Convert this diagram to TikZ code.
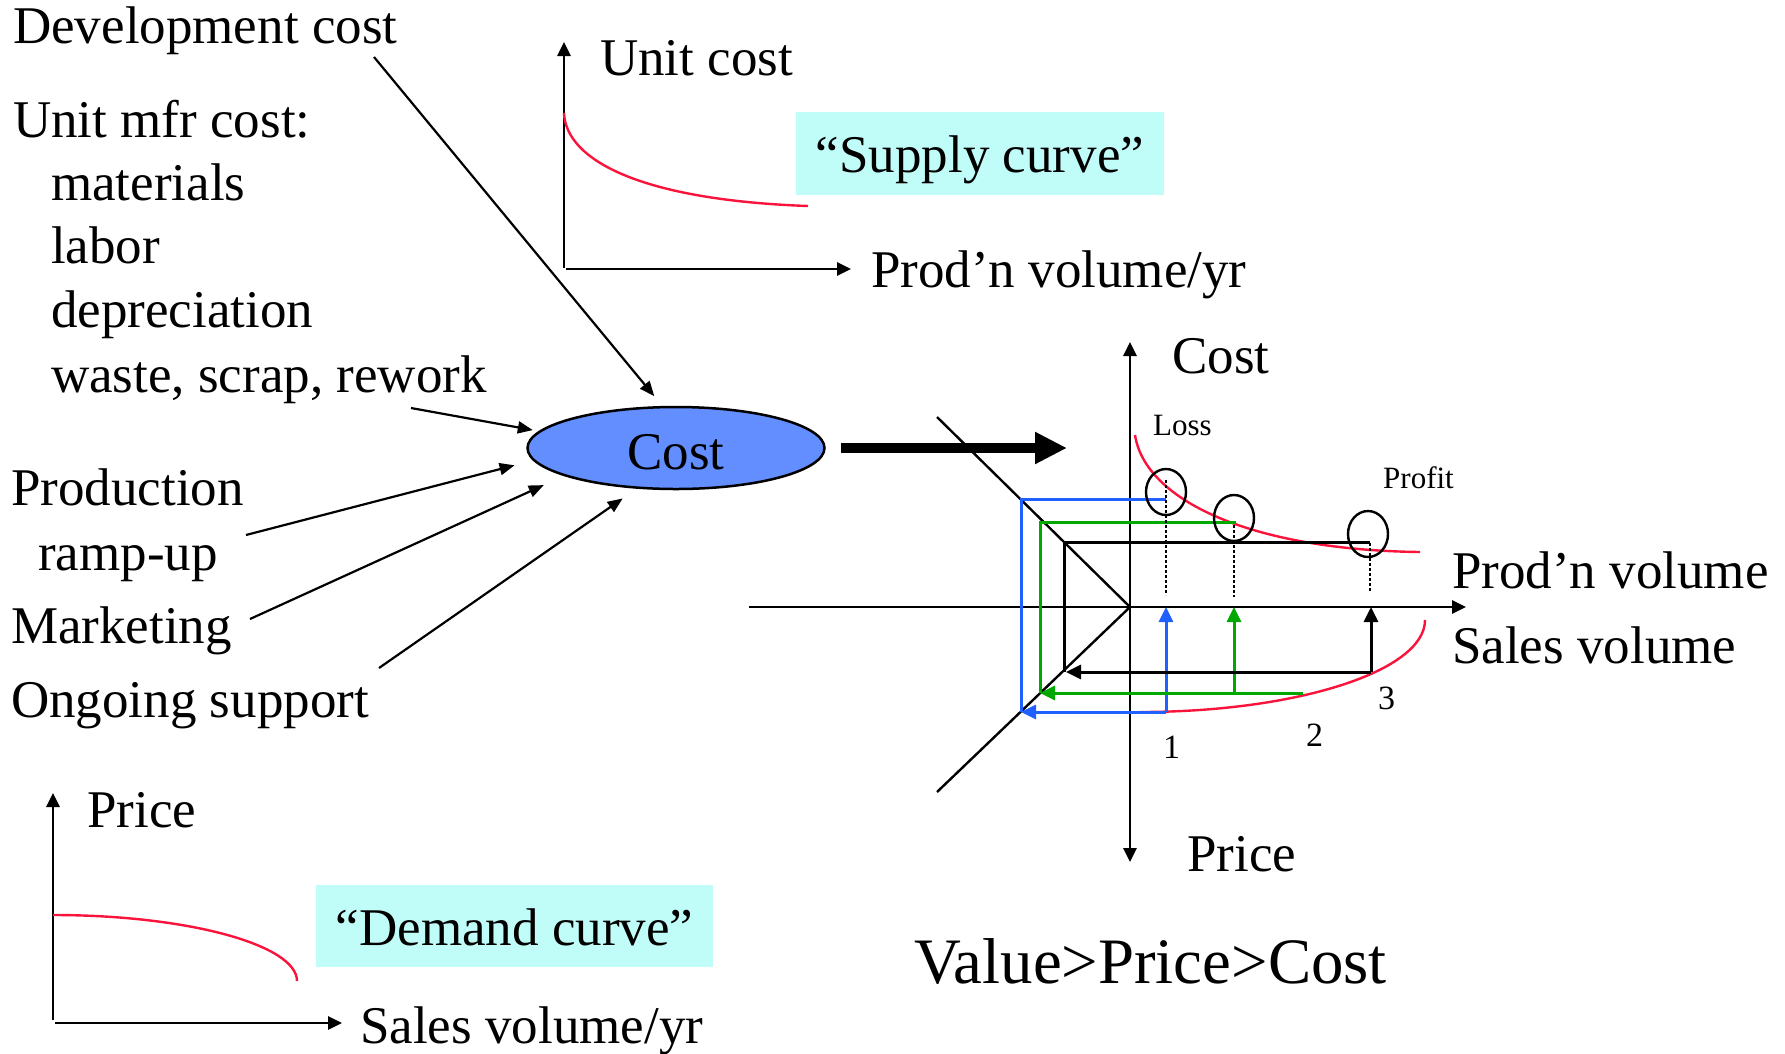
\documentclass[tikz,border=0pt]{standalone}
\usepackage{fontspec}
\setmainfont{Liberation Serif}
\usetikzlibrary{arrows.meta,shapes.geometric}
\definecolor{cred}{RGB}{250,20,60}
\definecolor{cblue}{RGB}{32,96,255}
\definecolor{cgreen}{RGB}{0,168,0}
\definecolor{cfill}{RGB}{98,142,255}
\definecolor{ccyan}{RGB}{192,252,248}
\newcommand\myBig{\fontsize{53}{64}\selectfont}
\newcommand\myHuge{\fontsize{64.8}{78}\selectfont}
\newcommand\mySmall{\fontsize{31}{37}\selectfont}
\newcommand\myNum{\fontsize{34}{40}\selectfont}
\begin{document}
\begin{tikzpicture}[x=1pt,y=-1pt,
  txt/.style={inner sep=0pt, anchor=base west, font=\myBig},
  smalltxt/.style={inner sep=0pt, anchor=base west, font=\mySmall},
  numtxt/.style={inner sep=0pt, anchor=base west, font=\myNum},
  conn/.style={line width=2.2pt, -{Triangle[length=15pt,width=12pt]}},
  axis/.style={line width=2.7pt, -{Triangle[length=14pt,width=13pt]}},
  axisboth/.style={line width=2.7pt, {Triangle[length=14pt,width=13pt]}-{Triangle[length=14pt,width=13pt]}},
  redln/.style={cred, line width=2.4pt},
  colln/.style={line width=3pt},
  colarr/.style={line width=3pt, -{Triangle[length=15pt,width=14pt]}},
  dotln/.style={line width=2.4pt, dash pattern=on 2.5pt off 2.5pt},
  ring/.style={ellipse, draw, line width=2.4pt, minimum width=40pt, minimum height=46pt, inner sep=0pt},
  cyanbox/.style={fill=ccyan, inner sep=0pt, font=\myBig}
]
\useasboundingbox (0,0) rectangle (1785,1053);
\fill[white] (0,0) rectangle (1785,1053);

% ---------- left texts ----------
\node[txt] (dev) at (13,43) {Development cost};
\node[txt] (umc) at (13,137) {Unit mfr cost:};
\node[txt] (mat) at (51,200) {materials};
\node[txt] (lab) at (51,263) {labor};
\node[txt] (dep) at (51,327) {depreciation};
\node[txt] (was) at (51,392) {waste, scrap, rework};
\node[txt] (pro) at (11,505) {Production};
\node[txt] (ramp) at (38,570) {ramp-up};
\node[txt] (mkt) at (11,643) {Marketing};
\node[txt] (ong) at (11,717) {Ongoing support};

% ---------- cost ellipse ----------
\node[ellipse, draw, line width=2.5pt, fill=cfill, minimum width=297pt, minimum height=82pt, inner sep=0pt, text height=42pt, text depth=0pt, font=\myBig] (cost) at (676,448) {Cost};

\coordinate (devtail) at (374,57);
\coordinate (wastail) at (411,408);
\coordinate (protail) at (246,535);
\coordinate (mkttail) at (250,619);
\coordinate (ongtail) at (379,668);
\draw[conn, shorten >=12.6pt] (devtail) -- (cost.108.8);
\draw[conn, shorten >=6pt] (wastail) -- (cost.173.6);
\draw[conn, shorten >=19pt] (protail) -- (cost.185.4);
\draw[conn, shorten >=22pt] (mkttail) -- (cost.194.8);
\draw[conn, shorten >=17pt] (ongtail) -- (cost.226.7);

% thick arrow
\coordinate (thickend) at (1067,448);
\draw[line width=10pt, -{Triangle[length=32pt,width=30pt]}, shorten <=15pt] (cost.east) -- (thickend);

% ---------- top chart (supply) ----------
\draw[axis] (564,268) -- (564,42);
\draw[axis] (566,269) -- (851,269);
\draw[redln] (564,113) .. controls (566,160) and (640,200) .. (808,206);
\node[txt] (unitcost) at (600,75) {Unit cost};
\node[txt] (prodyr) at (871,287) {Prod’n volume/yr};
\node[cyanbox, minimum width=368pt, minimum height=83pt, text height=48pt, text depth=11pt] (supply) at (980,153.5) {“Supply curve”};

% ---------- bottom-left chart (demand) ----------
\draw[axis] (53,1020) -- (53,793);
\draw[axis] (55,1023) -- (342,1023);
\draw[redln] (53,915) .. controls (188,915) and (297,945) .. (297,981);
\node[txt] (price1) at (87,827) {Price};
\node[txt] (salesyr) at (360,1043) {Sales volume/yr};
\node[cyanbox, minimum width=397pt, minimum height=82pt, text height=49pt, text depth=11pt] (demand) at (514.5,926) {“Demand curve”};

% ---------- right chart ----------
\draw[axisboth] (1130,862) -- (1130,342);
\draw[axis] (749,607) -- (1466,607);
\draw[line width=2.4pt] (937,417) -- (1130,607) -- (937,792);

% red curves
\draw[redln] (1135,435) .. controls (1145,500) and (1250,550) .. (1420,552);
\draw[redln] (1140,712) .. controls (1297,712) and (1425,671) .. (1425,620);

% blue
\draw[colln, cblue] (1166,499) -- (1021,499) -- (1021,712);
\draw[colarr, cblue] (1166,712) -- (1021,712);
\draw[colarr, cblue] (1166,712) -- (1166,607);
% green
\draw[colln, cgreen] (1236,522) -- (1040,522) -- (1040,693);
\draw[colarr, cgreen] (1303,693) -- (1040,693);
\draw[colarr, cgreen] (1234,693) -- (1234,607);
% black
\draw[colln, black] (1370,542) -- (1064,542) -- (1064,672);
\draw[colarr, black] (1371,672) -- (1066,672);
\draw[colarr, black] (1371,672) -- (1371,607);

% dotted
\draw[dotln] (1166,480) -- (1166,595);
\draw[dotln] (1234,525) -- (1234,597);
\draw[dotln] (1370,543) -- (1370,592);

% rings
\node[ring] (r1) at (1166,492) {};
\node[ring] (r2) at (1234,518) {};
\node[ring] (r3) at (1368,534) {};

% labels
\node[txt] (costax) at (1172,373) {Cost};
\node[txt] (priceax) at (1187,871) {Price};
\node[smalltxt] (loss) at (1153,435) {Loss};
\node[smalltxt] (profit) at (1383,488) {Profit};
\node[txt] (prodvol) at (1452,588) {Prod’n volume};
\node[txt] (salesvol) at (1452,663) {Sales volume};
\node[numtxt] (n1) at (1163,758) {1};
\node[numtxt] (n2) at (1306,746) {2};
\node[numtxt] (n3) at (1378,709) {3};
\node[inner sep=0pt, anchor=base west, font=\myHuge] (vpc) at (914,983) {Value>Price>Cost};
\end{tikzpicture}
\end{document}
